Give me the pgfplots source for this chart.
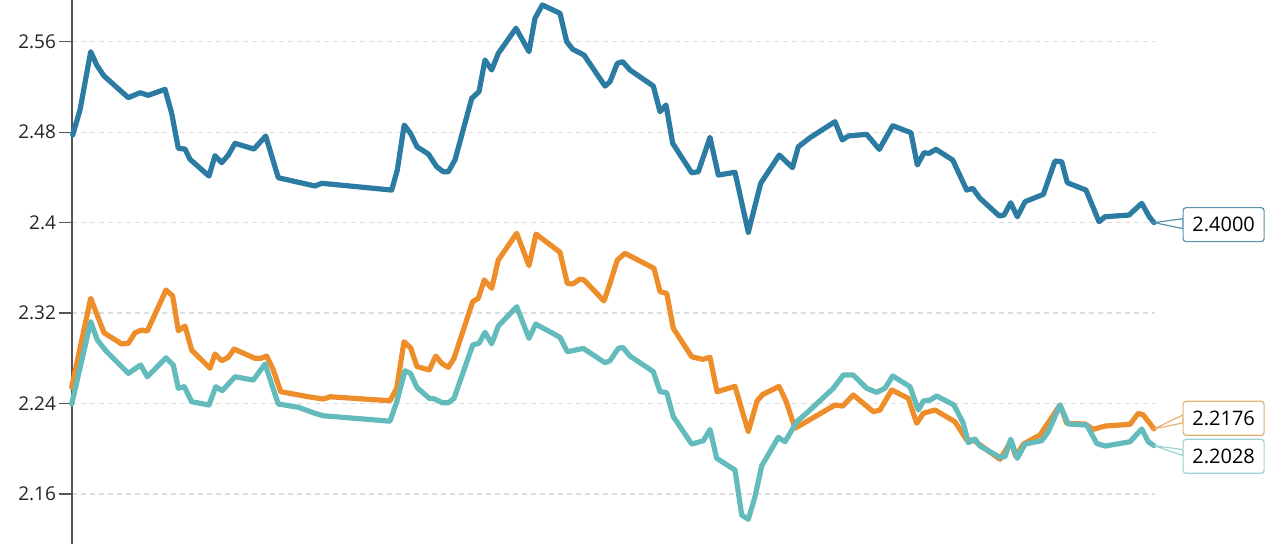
\documentclass[border=0pt]{standalone}
\usepackage{pgfplots}
\pgfplotsset{compat=1.18}
\usepackage{pgfplotstable}
\usepackage{fontspec}
\setmainfont{Open Sans}
\definecolor{cblue}{HTML}{2B7BA2}
\definecolor{corange}{HTML}{EE8E2A}
\definecolor{ccyan}{HTML}{63BBBC}
\definecolor{bblue}{HTML}{5A93AF}
\definecolor{borange}{HTML}{E6B273}
\definecolor{bcyan}{HTML}{9DD2D2}
\definecolor{gridc}{HTML}{DDDDDD}
\definecolor{axisc}{HTML}{555555}

\pgfplotstableread{
t y
72.7 2.4775
80 2.4996
90.7 2.5512
96.7 2.5394
104 2.5297
128.3 2.5105
140 2.5149
148.3 2.5126
165 2.5179
171.7 2.4967
178.3 2.4657
185 2.4651
190 2.4560
209 2.4412
215 2.4592
221.7 2.4530
228.3 2.4598
235 2.4701
254 2.4651
265.7 2.4766
278.3 2.4397
315 2.4324
321.7 2.4348
391.7 2.4288
397.3 2.4465
404.2 2.4863
410.5 2.4790
417 2.4671
428.3 2.4607
436.7 2.4495
443.3 2.4450
448.3 2.4450
455 2.4554
471.7 2.5099
479 2.5158
485 2.5438
491.7 2.5350
498.3 2.5497
516 2.5719
529 2.5512
535 2.5807
542.3 2.5925
560 2.5851
566.7 2.5600
572.7 2.5533
584 2.5482
605 2.5208
610 2.5246
617.3 2.5409
622.7 2.5423
630 2.5350
653.3 2.5208
660 2.4981
666 2.5040
672.7 2.4701
691.7 2.4441
698.3 2.4450
710 2.4754
718.3 2.4421
735 2.4445
748.3 2.3914
760.7 2.4348
779.3 2.4598
792.5 2.4486
798.3 2.4671
810 2.4751
835 2.4893
842.3 2.4731
848.3 2.4766
866.7 2.4781
879.3 2.4648
892.7 2.4857
911 2.4795
917.3 2.4510
924 2.4618
929 2.4613
936 2.4648
952.7 2.4554
966.7 2.4288
972.7 2.4303
980 2.4215
999.3 2.4059
1004 2.4067
1010.7 2.4176
1017.3 2.4052
1025 2.4185
1043.3 2.4250
1055 2.4545
1061.7 2.4539
1067.3 2.4353
1086 2.4288
1099 2.4008
1105 2.4052
1129 2.4067
1141.7 2.4171
1149.3 2.4052
1154 2.4000
}\blueT

\pgfplotstableread{
t y
71.7 2.2544
90.7 2.3331
104 2.3026
121.7 2.2927
128.3 2.2933
135 2.3026
141.7 2.3050
147.3 2.3041
166 2.3404
172.7 2.3351
178.3 2.3044
185 2.3086
191.7 2.2873
210 2.2712
215 2.2838
221.7 2.2779
228.3 2.2809
234 2.2882
255 2.2800
261 2.2800
266.7 2.2820
273.3 2.2697
280.7 2.2505
308.3 2.2460
323.3 2.2440
330 2.2460
390 2.2425
396.7 2.2535
404 2.2947
410.7 2.2891
417 2.2727
429.3 2.2697
435.7 2.2820
441.7 2.2756
448.3 2.2720
454 2.2800
472.7 2.3301
478.3 2.3331
484.3 2.3493
491.7 2.3419
498.3 2.3669
516.7 2.3906
529 2.3619
536 2.3899
560 2.3738
567.3 2.3463
572.7 2.3457
580 2.3501
584 2.3493
604 2.3307
610 2.3463
617.3 2.3669
625 2.3729
654 2.3596
660 2.3389
666.7 2.3375
673.3 2.3065
691.7 2.2814
702.7 2.2791
710 2.2809
717 2.2505
735 2.2552
748.3 2.2151
757 2.2422
762.7 2.2480
779 2.2552
786 2.2422
795 2.2181
835 2.2387
842.7 2.2378
853.3 2.2476
873.3 2.2328
880 2.2343
891.7 2.2520
908.3 2.2446
916.7 2.2225
923.3 2.2314
935 2.2343
955 2.2239
966.7 2.2077
973.3 2.2077
1000 2.1907
1010.7 2.2062
1016 2.1930
1023.3 2.2042
1040 2.2122
1050 2.2254
1060 2.2387
1066.7 2.2225
1085 2.2219
1093.3 2.2172
1105 2.2201
1130 2.2216
1138.3 2.2314
1143.3 2.2299
1154 2.2176
}\orangeT

\pgfplotstableread{
t y
71.7 2.2396
90.7 2.3124
97.3 2.2962
106.7 2.2858
128.3 2.2667
140.7 2.2741
147.3 2.2637
166 2.2805
173.3 2.2741
178.3 2.2535
184.3 2.2549
191.7 2.2416
209 2.2387
215.7 2.2549
222.3 2.2514
235 2.2637
253.3 2.2608
265 2.2750
278.3 2.2396
298.3 2.2367
315 2.2314
323.3 2.2292
390 2.2244
396.7 2.2414
405 2.2690
410.5 2.2667
417 2.2542
429.3 2.2446
435 2.2440
442.3 2.2407
448.3 2.2407
454 2.2446
472.7 2.2918
479 2.2933
485 2.3030
491.7 2.2927
498.3 2.3086
516.7 2.3256
529 2.2977
535.7 2.3103
560 2.2986
567.3 2.2858
583.3 2.2888
605 2.2761
610 2.2779
618.3 2.2888
622.7 2.2897
630 2.2820
653.3 2.2682
660 2.2505
666.7 2.2496
673.3 2.2284
691.7 2.2042
703.3 2.2071
710 2.2170
716.7 2.1916
735 2.1812
741.7 2.1414
748.3 2.1376
755 2.1576
761.7 2.1848
778.3 2.2101
785 2.2062
796.7 2.2239
810 2.2343
833.3 2.2535
843.3 2.2652
853.3 2.2652
866.7 2.2535
876.7 2.2499
885 2.2535
892.7 2.2644
910 2.2549
918.3 2.2343
923.3 2.2422
930 2.2431
936.7 2.2467
954 2.2387
963.3 2.2225
968.3 2.2054
975 2.2086
980 2.2024
1000 2.1924
1005 2.1930
1010.7 2.2084
1017.3 2.1916
1025 2.2042
1041.7 2.2071
1048.3 2.2151
1060 2.2387
1068.3 2.2219
1086.7 2.2210
1096.7 2.2048
1105 2.2024
1130 2.2062
1141.7 2.2175
1148.3 2.2062
1154 2.2028
}\cyanT

\begin{document}
\begin{tikzpicture}
\useasboundingbox (0,0) rectangle (640pt,272pt);
\begin{axis}[
  at={(36pt,0pt)}, anchor=south west,
  scale only axis, width=541.5pt, height=272pt,
  xmin=72, xmax=1155,
  ymin=2.1158, ymax=2.5969,
  axis y line*=left,
  axis x line=none,
  axis line style={axisc, line width=0.6pt},
  ytick={2.16,2.24,2.32,2.4,2.48,2.56},
  yticklabels={2.16,2.24,2.32,2.4,2.48,2.56},
  ytick align=outside,
  ytick style={draw=axisc, line width=0.6pt},
  major tick length=6.5pt,
  yticklabel style={font=\fontsize{9.5}{11}\selectfont, text=black!85, xshift=2pt},
  ymajorgrids,
  grid style={gridc, line width=0.6pt, dash pattern=on 2.5pt off 2pt},
  clip=false,
]
\pgfplotsinvokeforeach{2.16,2.24,2.32,2.4,2.48,2.56}{
  \draw[axisc, line width=0.6pt] (axis cs:72,#1) -- ++(-6.5pt,0pt);
}
\addplot[cblue, line width=2.6pt, line join=round, line cap=round] table[x=t,y=y] {\blueT};
\addplot[corange, line width=2.6pt, line join=round, line cap=round] table[x=t,y=y] {\orangeT};
\addplot[ccyan, line width=2.6pt, line join=round, line cap=round] table[x=t,y=y] {\cyanT};
\coordinate (pB) at (axis cs:1154,2.4);
\coordinate (pO) at (axis cs:1154,2.2176);
\coordinate (pC) at (axis cs:1154,2.2028);
\end{axis}

\draw[bblue, line width=0.6pt, fill=white] (pB) -- ([shift={(14.5pt,2pt)}]pB) -- ([shift={(14.5pt,-3pt)}]pB) -- cycle;
\node[draw=bblue, line width=0.6pt, fill=white, rounded corners=1.5pt, minimum width=40.5pt, minimum height=17pt, inner sep=0pt, anchor=west, font=\fontsize{10}{12}\selectfont]
  at ([shift={(14.25pt,-1pt)}]pB) {2.4000};

\draw[borange, line width=0.6pt, fill=white] (pO) -- ([shift={(14.5pt,7pt)}]pO) -- ([shift={(14.5pt,3pt)}]pO) -- cycle;
\node[draw=borange, line width=0.6pt, fill=white, rounded corners=1.5pt, minimum width=40.5pt, minimum height=17pt, inner sep=0pt, anchor=west, font=\fontsize{10}{12}\selectfont]
  at ([shift={(14.25pt,5.3pt)}]pO) {2.2176};

\draw[bcyan, line width=0.6pt, fill=white] (pC) -- ([shift={(14.5pt,-2pt)}]pC) -- ([shift={(14.5pt,-5pt)}]pC) -- cycle;
\node[draw=bcyan, line width=0.6pt, fill=white, rounded corners=1.5pt, minimum width=40.5pt, minimum height=17pt, inner sep=0pt, anchor=west, font=\fontsize{10}{12}\selectfont]
  at ([shift={(14.25pt,-5.35pt)}]pC) {2.2028};
\end{tikzpicture}
\end{document}
